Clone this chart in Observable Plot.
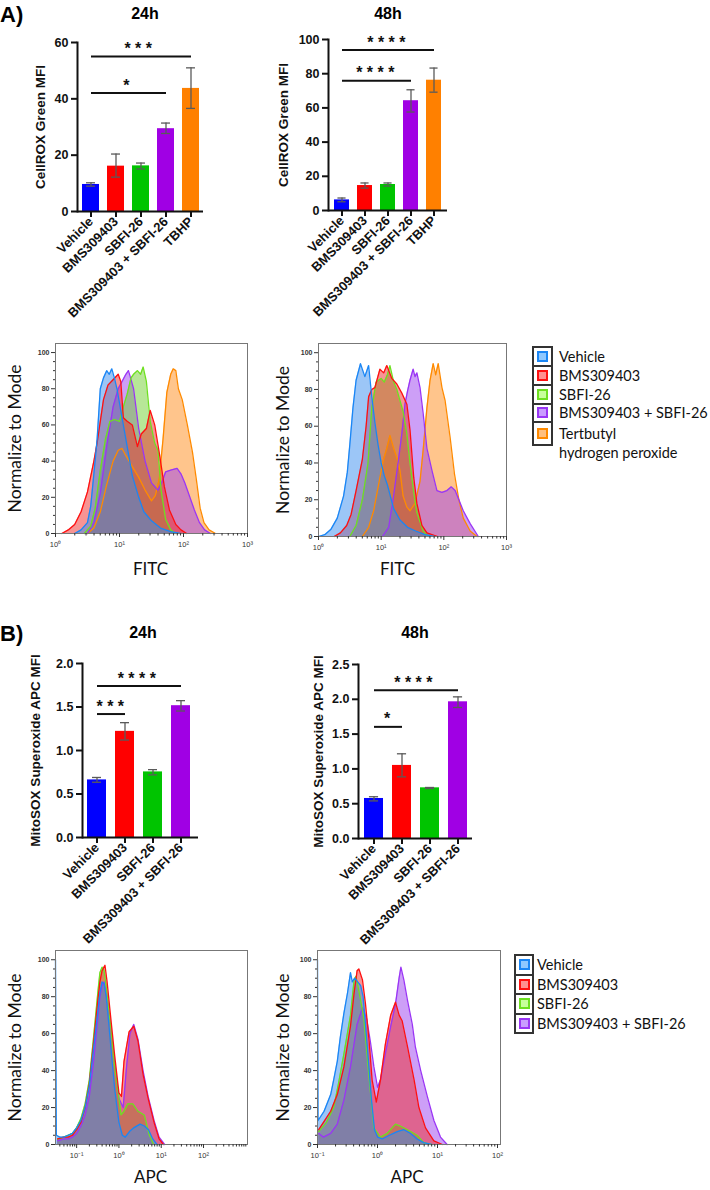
<!DOCTYPE html>
<html><head><meta charset="utf-8">
<script src="https://cdn.jsdelivr.net/npm/d3@7"></script>
<script src="https://cdn.jsdelivr.net/npm/@observablehq/plot@0.6"></script>
<style>
body{margin:0;background:#fff;}
#root{position:relative;width:710px;height:1190px;overflow:hidden;font-family:"Liberation Sans",Arial,sans-serif;color:#000;}
.panel{font-weight:bold;font-size:22px;line-height:24px;}
.ttl{font-weight:bold;font-size:16px;line-height:18px;transform:translateX(-50%);white-space:nowrap;}
.lgtext{font-family:Lato,"Open Sans",sans-serif;font-size:14.5px;color:#111;white-space:pre;}
svg{overflow:visible;}
</style></head><body><div id="root"></div>
<script>
// ---------------- DATA ----------------
const groupsA = ["Vehicle","BMS309403","SBFI-26","BMS309403 + SBFI-26","TBHP"];
const groupsB = ["Vehicle","BMS309403","SBFI-26","BMS309403 + SBFI-26"];
const barColors = ["#0000ff","#ff0000","#00c400","#a000e4","#ff8000"];

// CellROX Green MFI, 24h
const cellrox24Mean = [9.6,16.1,16.2,29.4,43.7];
const cellrox24Low  = [9.0,12.2,15.1,27.7,36.6];
const cellrox24High = [10.2,20.4,17.2,31.4,51.0];
const cellrox24SigFrom = ["Vehicle","Vehicle"];
const cellrox24SigTo   = ["TBHP","BMS309403 + SBFI-26"];
const cellrox24SigY    = [55.0,42.1];
const cellrox24SigText = ["***","*"];

// CellROX Green MFI, 48h
const cellrox48Mean = [6.2,14.6,15.2,64.2,76.2];
const cellrox48Low  = [5.1,13.1,14.3,57.6,69.2];
const cellrox48High = [7.3,16.1,16.1,70.6,83.3];
const cellrox48SigFrom = ["Vehicle","Vehicle"];
const cellrox48SigTo   = ["TBHP","BMS309403 + SBFI-26"];
const cellrox48SigY    = [93.8,75.9];
const cellrox48SigText = ["****","****"];

// MitoSOX Superoxide APC MFI, 24h
const mitosox24Mean = [0.662,1.22,0.754,1.515];
const mitosox24Low  = [0.635,1.12,0.72,1.454];
const mitosox24High = [0.69,1.32,0.78,1.573];
const mitosox24SigFrom = ["Vehicle","Vehicle"];
const mitosox24SigTo   = ["BMS309403 + SBFI-26","BMS309403"];
const mitosox24SigY    = [1.742,1.419];
const mitosox24SigText = ["****","***"];

// MitoSOX Superoxide APC MFI, 48h
const mitosox48Mean = [0.575,1.05,0.728,1.964];
const mitosox48Low  = [0.54,0.886,0.718,1.882];
const mitosox48High = [0.60,1.217,0.733,2.035];
const mitosox48SigFrom = ["Vehicle","Vehicle"];
const mitosox48SigTo   = ["BMS309403 + SBFI-26","BMS309403"];
const mitosox48SigY    = [2.13,1.604];
const mitosox48SigText = ["****","*"];

// Histogram series: [log10 intensity, % of mode]
const fitc24Vehicle = [[0.3,0],[0.4,2],[0.5,6],[0.55,15],[0.6,33],[0.65,52],[0.7,80],[0.75,86],[0.8,90],[0.84,88],[0.88,91],[0.92,86],[0.96,80],[1.0,72],[1.06,60],[1.12,48],[1.2,32],[1.3,20],[1.38,12],[1.5,7],[1.64,3],[1.8,1],[1.95,0]];
const fitc24BMS = [[0.1,0],[0.2,2],[0.3,5],[0.4,12],[0.5,23],[0.6,40],[0.65,50],[0.7,62],[0.75,74],[0.82,82],[0.9,85],[0.98,88],[1.02,84],[1.06,64],[1.12,62],[1.2,60],[1.28,48],[1.34,55],[1.42,58],[1.48,68],[1.55,60],[1.62,45],[1.7,26],[1.78,13],[1.88,5],[1.96,2],[2.05,0]];
const fitc24SBFI = [[0.45,0],[0.55,4],[0.62,14],[0.7,35],[0.78,52],[0.85,62],[0.92,63],[1.0,62],[1.06,70],[1.12,77],[1.18,86],[1.22,88],[1.28,90],[1.33,88],[1.37,92],[1.42,84],[1.48,62],[1.55,50],[1.6,46],[1.65,24],[1.72,8],[1.8,2],[1.88,0]];
const fitc24Combo = [[0.5,0],[0.6,6],[0.7,22],[0.8,48],[0.9,70],[0.98,80],[1.04,84],[1.1,88],[1.14,90],[1.18,85],[1.22,80],[1.3,58],[1.4,40],[1.5,28],[1.6,24],[1.66,28],[1.72,34],[1.8,35],[1.9,36],[1.96,33],[2.02,28],[2.1,20],[2.17,13],[2.25,6],[2.33,2],[2.42,0]];
const fitc24TBHP = [[0.5,0],[0.6,3],[0.7,12],[0.8,27],[0.9,40],[0.98,46],[1.04,47],[1.1,43],[1.2,37],[1.3,31],[1.4,24],[1.5,18],[1.56,21],[1.62,30],[1.68,52],[1.74,78],[1.8,88],[1.84,91],[1.88,90],[1.92,80],[1.98,74],[2.06,60],[2.14,45],[2.2,30],[2.26,14],[2.32,6],[2.4,2],[2.5,0]];

const fitc48Vehicle = [[0.0,0],[0.1,1],[0.2,4],[0.3,10],[0.4,22],[0.46,35],[0.5,50],[0.55,70],[0.6,85],[0.67,94],[0.74,87],[0.8,93],[0.85,76],[0.9,62],[0.95,50],[1.0,40],[1.05,33],[1.1,28],[1.2,15],[1.3,9],[1.42,5],[1.55,3],[1.7,1],[1.85,0]];
const fitc48BMS = [[0.25,0],[0.35,2],[0.45,6],[0.52,12],[0.6,25],[0.7,42],[0.76,60],[0.8,76],[0.85,80],[0.9,81],[0.98,91],[1.04,89],[1.09,93],[1.17,86],[1.25,83],[1.33,78],[1.41,72],[1.46,58],[1.52,32],[1.57,18],[1.65,6],[1.73,2],[1.9,0]];
const fitc48SBFI = [[0.5,0],[0.6,6],[0.7,20],[0.79,40],[0.85,70],[0.92,84],[1.0,86],[1.05,84],[1.1,88],[1.14,93],[1.2,84],[1.25,80],[1.3,74],[1.35,68],[1.41,56],[1.46,40],[1.52,24],[1.57,13],[1.67,3],[1.75,0]];
const fitc48Combo = [[1.02,0],[1.12,5],[1.19,20],[1.27,40],[1.33,56],[1.38,72],[1.42,79],[1.46,85],[1.51,91],[1.54,87],[1.57,89],[1.62,81],[1.67,67],[1.73,48],[1.81,36],[1.89,25],[1.97,24],[2.05,25],[2.12,27],[2.18,25],[2.24,20],[2.31,14],[2.42,7],[2.55,0]];
const fitc48TBHP = [[0.7,0],[0.8,5],[0.88,14],[0.93,23],[1.03,41],[1.09,48],[1.14,55],[1.2,48],[1.26,42],[1.3,36],[1.35,22],[1.41,16],[1.46,14],[1.54,18],[1.62,30],[1.67,47],[1.73,70],[1.78,85],[1.83,94],[1.87,88],[1.91,94],[1.97,81],[2.02,74],[2.1,54],[2.17,34],[2.24,20],[2.31,10],[2.42,3],[2.53,0]];

const apc24Vehicle = [[-1.5,100],[-1.48,5],[-1.4,4],[-1.3,4],[-1.2,5],[-1.1,6],[-1.0,9],[-0.9,13],[-0.8,20],[-0.7,32],[-0.6,52],[-0.5,72],[-0.45,82],[-0.4,88],[-0.35,87],[-0.3,80],[-0.25,68],[-0.2,55],[-0.1,30],[0.0,12],[0.08,5],[0.15,4],[0.25,7],[0.35,9],[0.5,11],[0.6,10],[0.7,8],[0.8,3],[0.9,0]];
const apc24BMS = [[-1.45,3],[-1.3,4],[-1.2,4],[-1.1,5],[-1.0,8],[-0.9,12],[-0.8,20],[-0.7,33],[-0.6,55],[-0.5,78],[-0.45,88],[-0.4,94],[-0.33,97],[-0.28,88],[-0.2,70],[-0.1,48],[0.0,28],[0.06,26],[0.12,45],[0.24,61],[0.35,64],[0.45,56],[0.57,38],[0.69,25],[0.83,12],[0.95,3],[1.05,0]];
const apc24SBFI = [[-1.45,3],[-1.3,4],[-1.2,5],[-1.1,6],[-1.0,9],[-0.9,14],[-0.8,22],[-0.7,35],[-0.6,58],[-0.5,82],[-0.45,93],[-0.4,96],[-0.35,94],[-0.3,85],[-0.2,65],[-0.1,42],[0.0,25],[0.05,16],[0.12,18],[0.21,22],[0.33,22],[0.45,18],[0.6,16],[0.72,5],[0.82,0]];
const apc24Combo = [[-1.45,2],[-1.3,3],[-1.2,3],[-1.1,4],[-1.0,6],[-0.9,10],[-0.8,16],[-0.7,26],[-0.6,45],[-0.5,68],[-0.45,80],[-0.4,86],[-0.35,88],[-0.3,82],[-0.2,65],[-0.1,44],[0.0,25],[0.1,20],[0.18,42],[0.26,60],[0.35,65],[0.45,57],[0.57,40],[0.69,26],[0.83,13],[0.95,4],[1.08,0]];

const apc48Vehicle = [[-1.0,100],[-0.99,13],[-0.89,18],[-0.78,27],[-0.73,35],[-0.67,45],[-0.62,58],[-0.56,71],[-0.5,82],[-0.45,93],[-0.42,88],[-0.38,90],[-0.33,88],[-0.28,86],[-0.24,80],[-0.2,65],[-0.15,45],[-0.1,24],[-0.05,8],[0.0,4],[0.08,3],[0.2,5],[0.33,7],[0.44,8],[0.55,6],[0.66,3],[0.77,1],[0.9,0]];
const apc48BMS = [[-0.98,8],[-0.9,12],[-0.78,18],[-0.67,27],[-0.56,42],[-0.45,64],[-0.39,82],[-0.34,94],[-0.31,95],[-0.25,89],[-0.2,76],[-0.14,56],[-0.09,35],[-0.02,23],[0.05,35],[0.13,54],[0.22,70],[0.3,77],[0.36,70],[0.41,67],[0.5,53],[0.61,35],[0.69,20],[0.8,9],[0.94,2],[1.08,0]];
const apc48SBFI = [[-0.98,7],[-0.85,12],[-0.73,20],[-0.65,33],[-0.56,49],[-0.45,70],[-0.39,89],[-0.36,91],[-0.31,83],[-0.23,69],[-0.14,36],[-0.06,9],[0.05,4],[0.16,6],[0.3,11],[0.38,10],[0.5,8],[0.66,5],[0.77,1],[0.9,0]];
const apc48Combo = [[-0.98,6],[-0.9,4],[-0.78,6],[-0.67,11],[-0.56,24],[-0.45,42],[-0.34,65],[-0.25,74],[-0.18,68],[-0.12,56],[-0.06,42],[0.0,31],[0.05,35],[0.13,49],[0.22,64],[0.3,76],[0.36,90],[0.39,96],[0.44,89],[0.5,78],[0.58,65],[0.63,53],[0.72,40],[0.83,26],[0.94,13],[1.05,4],[1.16,0]];

const histFills   = ["#3a8ef0","#f02a2a","#6fd030","#9c3ff0","#ff8c1a"];
const histStrokes = ["#1a86f5","#ff1010","#6ee020","#9a35f5","#ff8a00"];
const legendNamesA = ["Vehicle","BMS309403","SBFI-26","BMS309403 + SBFI-26","Tertbutyl\nhydrogen peroxide"];
const legendNamesB = ["Vehicle","BMS309403","SBFI-26","BMS309403 + SBFI-26"];
const legendIconFills = ["#8ec8ff","#ff9090","#c8ff9c","#c99cff","#ffc080"];

const fitcTicks = [1,10,100,1000];
const fitcTickLabels = ["10⁰","10¹","10²","10³"];
const apcTicks = [0.1,1,10,100];
const apcTickLabels = ["10⁻¹","10⁰","10¹","10²"];
const pctTicks = [0,20,40,60,80,100];

// ---------------- RENDER ----------------
const root = document.getElementById("root");
function place(node, left, top) {
  node.style.position = "absolute"; node.style.left = left + "px"; node.style.top = top + "px";
  root.appendChild(node); return node;
}
function textDiv(txt, cls, left, top) {
  const d = document.createElement("div"); d.className = cls; d.textContent = txt;
  return place(d, left, top);
}

function makeBar(cfg) {
  const {cats, mean, low, high, sigFrom, sigTo, sigY, sigText, yDomain, yTicks, yFmt, yLabel,
         left, top, width, height, mL, mR, mT, mB, inL, inR, padIn, yLabelDx} = cfg;
  const data = cats.map((c, i) => ({c, m: mean[i], lo: low[i], hi: high[i], col: barColors[i]}));
  const sig = sigFrom.map((f, i) => ({f, t: sigTo[i], y: sigY[i], s: sigText[i]}));
  const step = (width - mL - mR - inL - inR) / cats.length;
  const bw = step * (1 - padIn);
  const capInset = (bw - 8) / 2;
  const idx = c => cats.indexOf(c);
  const marks = [
    Plot.barY(data, {x: "c", y: "m", fill: "col"}),
    Plot.ruleX(data, {x: "c", y1: "lo", y2: "hi", stroke: "#5a5a5a", strokeWidth: 1.3}),
    Plot.tickY(data, {x: "c", y: "lo", stroke: "#5a5a5a", strokeWidth: 1.3, insetLeft: capInset, insetRight: capInset}),
    Plot.tickY(data, {x: "c", y: "hi", stroke: "#5a5a5a", strokeWidth: 1.3, insetLeft: capInset, insetRight: capInset}),
    Plot.link(sig, {x1: "f", x2: "t", y1: "y", y2: "y", stroke: "#111", strokeWidth: 2}),
    ...sig.map(s => Plot.text([s], {x: "f", y: "y", text: d => d.s.split("").join(" "),
        dx: (idx(s.t) - idx(s.f)) * step / 2, dy: -7.5, fontSize: 16, fontWeight: "bold", fill: "#111"})),
    Plot.ruleY([yDomain[0]], {stroke: "#111", strokeWidth: 2}),
    Plot.frame({anchor: "left", stroke: "#111", strokeWidth: 2}),
    Plot.axisY({ticks: yTicks, tickFormat: yFmt, tickSize: 6, tickPadding: 3, stroke: "#111", strokeWidth: 2,
        fontSize: 12.5, fontWeight: "bold", label: null}),
    Plot.axisX({tickRotate: -45, tickSize: 6, tickPadding: 2, stroke: "#111", strokeWidth: 2,
        fontSize: 13, fontWeight: "bold", label: null}),
    Plot.text([yLabel], {frameAnchor: "left", textAnchor: "middle", rotate: -90, dx: yLabelDx, fontSize: 13.5, fontWeight: "bold", fill: "#111"})
  ];
  const svg = Plot.plot({
    width, height, marginLeft: mL, marginRight: mR, marginTop: mT, marginBottom: mB,
    x: {type: "band", domain: cats, paddingInner: padIn, paddingOuter: 0, insetLeft: inL, insetRight: inR},
    y: {domain: yDomain},
    style: {background: "transparent", overflow: "visible", fontFamily: "'Liberation Sans', Arial, sans-serif", color: "#111"},
    marks
  });
  place(svg, left, top);
}

function makeHist(cfg) {
  const {series, xDomain, ticks, tickLabels, left, top, width, height, mL, mR, mT, mB,
         xLabel, yLabelDx, xLabelDx, xLabelDy} = cfg;
  const labelOf = new Map(ticks.map((t, i) => [t, tickLabels[i]]));
  const minor = [];
  const e0 = Math.floor(Math.log10(xDomain[0])), e1 = Math.ceil(Math.log10(xDomain[1]));
  for (let e = e0; e <= e1; e++) for (let k = 1; k <= 9; k++) {
    const v = k * Math.pow(10, e);
    if (v >= xDomain[0] * 0.999 && v <= xDomain[1] * 1.001 && !ticks.some(t => Math.abs(t - v) / t < 1e-6)) minor.push(v);
  }
  const order = series.slice().reverse(); // first series (Vehicle) drawn last, on top
  const marks = [];
  for (const s of order) marks.push(Plot.areaY(s.pts, {x: d => Math.pow(10, d[0]), y: d => d[1], fill: s.fill, fillOpacity: 0.5}));
  for (const s of order) marks.push(Plot.lineY(s.pts, {x: d => Math.pow(10, d[0]), y: d => d[1], stroke: s.stroke, strokeWidth: 1.3}));
  marks.push(
    Plot.frame({stroke: "#777", strokeWidth: 1}),
    Plot.axisY({ticks: pctTicks, tickSize: 4, tickPadding: 2, stroke: "#333", fill: "#333", fontSize: 7, fontWeight: "bold", label: null}),
    Plot.axisY({ticks: d3.range(5, 100, 5).filter(v => v % 20), tickSize: 2, stroke: "#333", tickFormat: () => "", label: null}),
    Plot.axisX({ticks: ticks, tickFormat: d => labelOf.get(d), tickSize: 4, tickPadding: 4, stroke: "#333", fill: "#333", fontSize: 7.5, label: null}),
    Plot.axisX({ticks: minor, tickSize: 2.5, stroke: "#333", tickFormat: () => "", label: null}),
    Plot.text(["Normalize to Mode"], {frameAnchor: "left", textAnchor: "middle", rotate: -90, dx: yLabelDx, fontSize: 17.5, fontFamily: "Lato, 'Open Sans', sans-serif", fill: "#111"}),
    Plot.text([xLabel], {frameAnchor: "bottom", textAnchor: "middle", dx: xLabelDx, dy: xLabelDy, fontSize: 17, fontFamily: "Lato, 'Open Sans', sans-serif", fill: "#111"})
  );
  const svg = Plot.plot({
    width, height, marginLeft: mL, marginRight: mR, marginTop: mT, marginBottom: mB,
    x: {type: "log", domain: xDomain},
    y: {domain: [0, 105]},
    style: {background: "transparent", overflow: "visible", fontFamily: "'Liberation Sans', Arial, sans-serif", color: "#333"},
    marks
  });
  place(svg, left, top);
}

function makeLegend(names, boxLeft, boxW, top, rowHs, textLeft) {
  let y = top;
  names.forEach((n, i) => {
    const h = rowHs[i];
    const box = document.createElement("div");
    box.style.cssText = `width:${boxW}px;height:${h + 2}px;border:2px solid #333;box-sizing:border-box;background:#fff;`;
    place(box, boxLeft, y);
    const icon = document.createElement("div");
    icon.style.cssText = `width:11px;height:11px;border:2px solid ${histStrokes[i]};background:${legendIconFills[i]};box-sizing:border-box;`;
    place(icon, boxLeft + (boxW - 11) / 2, y + (h + 2 - 11) / 2);
    const t = textDiv(n, "lgtext", textLeft, y);
    t.style.lineHeight = "19px";
    t.style.marginTop = ((h + 2 - 19) / 2) + "px";
    y += h;
  });
}

// Panel labels and titles
textDiv("A)", "panel", 0, 3);
textDiv("B)", "panel", 0, 622);
textDiv("24h", "ttl", 145, 5);
textDiv("48h", "ttl", 388, 5);
textDiv("24h", "ttl", 143, 624);
textDiv("48h", "ttl", 415, 624);

// Bar charts
makeBar({cats: groupsA, mean: cellrox24Mean, low: cellrox24Low, high: cellrox24High,
  sigFrom: cellrox24SigFrom, sigTo: cellrox24SigTo, sigY: cellrox24SigY, sigText: cellrox24SigText,
  yDomain: [0, 60], yTicks: [0, 20, 40, 60], yFmt: d3.format("d"), yLabel: "CellROX Green MFI",
  left: 0, top: 0, width: 215, height: 330, mL: 77, mR: 12, mT: 42, mB: 119, inL: 4, inR: 4, padIn: 0.32, yLabelDx: -37});
makeBar({cats: groupsA, mean: cellrox48Mean, low: cellrox48Low, high: cellrox48High,
  sigFrom: cellrox48SigFrom, sigTo: cellrox48SigTo, sigY: cellrox48SigY, sigText: cellrox48SigText,
  yDomain: [0, 100], yTicks: [0, 20, 40, 60, 80, 100], yFmt: d3.format("d"), yLabel: "CellROX Green MFI",
  left: 240, top: 0, width: 215, height: 330, mL: 88, mR: 8, mT: 39, mB: 120, inL: 4, inR: 4, padIn: 0.33, yLabelDx: -45});
makeBar({cats: groupsB, mean: mitosox24Mean, low: mitosox24Low, high: mitosox24High,
  sigFrom: mitosox24SigFrom, sigTo: mitosox24SigTo, sigY: mitosox24SigY, sigText: mitosox24SigText,
  yDomain: [0, 2], yTicks: [0, 0.5, 1, 1.5, 2], yFmt: d3.format(".1f"), yLabel: "MitoSOX Superoxide APC MFI",
  left: 0, top: 620, width: 210, height: 260, mL: 82, mR: 12, mT: 43, mB: 43, inL: 4, inR: 6, padIn: 0.32, yLabelDx: -47});
makeBar({cats: groupsB, mean: mitosox48Mean, low: mitosox48Low, high: mitosox48High,
  sigFrom: mitosox48SigFrom, sigTo: mitosox48SigTo, sigY: mitosox48SigY, sigText: mitosox48SigText,
  yDomain: [0, 2.5], yTicks: [0, 0.5, 1, 1.5, 2, 2.5], yFmt: d3.format(".1f"), yLabel: "MitoSOX Superoxide APC MFI",
  left: 250, top: 620, width: 230, height: 260, mL: 108, mR: 8, mT: 44, mB: 42, inL: 5, inR: 4, padIn: 0.32, yLabelDx: -40});

// Histograms
const sA24 = [fitc24Vehicle, fitc24BMS, fitc24SBFI, fitc24Combo, fitc24TBHP].map((pts, i) => ({pts, fill: histFills[i], stroke: histStrokes[i]}));
const sA48 = [fitc48Vehicle, fitc48BMS, fitc48SBFI, fitc48Combo, fitc48TBHP].map((pts, i) => ({pts, fill: histFills[i], stroke: histStrokes[i]}));
const sB24 = [apc24Vehicle, apc24BMS, apc24SBFI, apc24Combo].map((pts, i) => ({pts, fill: histFills[i], stroke: histStrokes[i]}));
const sB48 = [apc48Vehicle, apc48BMS, apc48SBFI, apc48Combo].map((pts, i) => ({pts, fill: histFills[i], stroke: histStrokes[i]}));

makeHist({series: sA24, xDomain: [1, 1000], ticks: fitcTicks, tickLabels: fitcTickLabels,
  left: 0, top: 330, width: 260, height: 260, mL: 55, mR: 13, mT: 13, mB: 57, xLabel: "FITC", yLabelDx: -40, xLabelDx: -1, xLabelDy: 41});
makeHist({series: sA48, xDomain: [1, 1000], ticks: fitcTicks, tickLabels: fitcTickLabels,
  left: 270, top: 330, width: 250, height: 260, mL: 48, mR: 14, mT: 13, mB: 54, xLabel: "FITC", yLabelDx: -35, xLabelDx: -15, xLabelDy: 38});
makeHist({series: sB24, xDomain: [Math.pow(10, -1.5), Math.pow(10, 3.04)], ticks: apcTicks, tickLabels: apcTickLabels,
  left: 0, top: 940, width: 260, height: 250, mL: 55, mR: 13, mT: 10, mB: 46, xLabel: "APC", yLabelDx: -40, xLabelDx: -1, xLabelDy: 38});
makeHist({series: sB48, xDomain: [0.1, Math.pow(10, 2.05)], ticks: apcTicks, tickLabels: apcTickLabels,
  left: 270, top: 940, width: 240, height: 250, mL: 47, mR: 10, mT: 10, mB: 46, xLabel: "APC", yLabelDx: -34, xLabelDx: -2, xLabelDy: 38});

// Legends
makeLegend(legendNamesA, 532, 21, 346, [19, 19, 18.5, 18.5, 23], 559);
makeLegend(legendNamesB, 514, 20, 954, [19.5, 19.5, 19.5, 19.5], 537);
</script></body></html>
